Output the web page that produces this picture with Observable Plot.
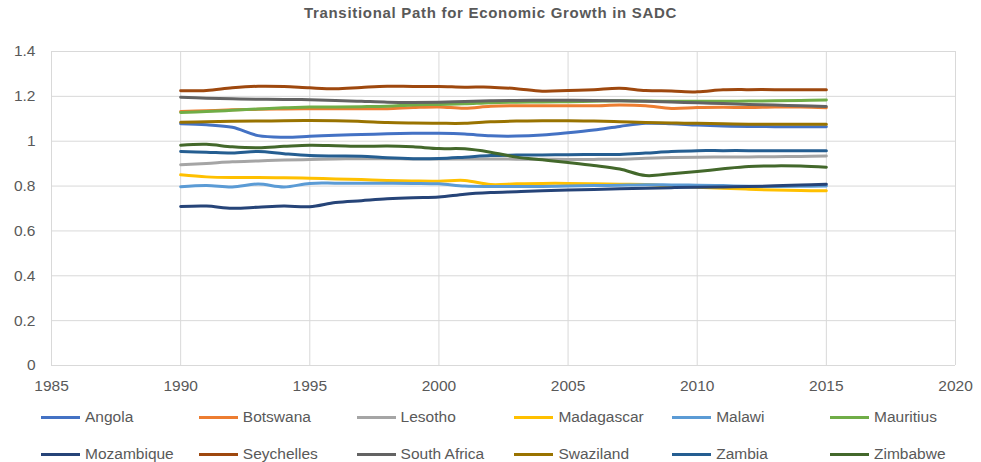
<!DOCTYPE html>
<html>
<head>
<meta charset="utf-8">
<script src="https://cdn.jsdelivr.net/npm/d3@7"></script>
<script src="https://cdn.jsdelivr.net/npm/@observablehq/plot@0.6"></script>
<style>
  body { margin: 0; background: #fff; }
  #wrap { position: relative; width: 981px; height: 462px; font-family: "Liberation Sans", Arial, sans-serif; color: #595959; overflow: hidden; }
  #title { position: absolute; left: 0; top: 4px; width: 981px; text-align: center; font-weight: bold; font-size: 15px; letter-spacing: 0.7px; line-height: 18px; }
  #chart { position: absolute; left: 0; top: 26px; }
  .leg { position: absolute; font-size: 15.5px; line-height: 18px; white-space: nowrap; }
  .sw { position: absolute; width: 39px; height: 3px; }
</style>
</head>
<body>
<div id="wrap">
  <div id="title">Transitional Path for Economic Growth in SADC</div>
  <div id="chart"></div>
  <div id="legend"></div>
</div>
<script>
const years = d3.range(1990, 2016);
const countries = ["Angola","Botswana","Lesotho","Madagascar","Malawi","Mauritius","Mozambique","Seychelles","South Africa","Swaziland","Zambia","Zimbabwe"];
const colors = ["#4472C4","#ED7D31","#A5A5A5","#FFC000","#5B9BD5","#70AD47","#264478","#9E480E","#636363","#997300","#255E91","#43682B"];
const xTicks = [1985,1990,1995,2000,2005,2010,2015,2020];
const yTicks = [0,0.2,0.4,0.6,0.8,1,1.2,1.4];

const angola = [1.078,1.073,1.062,1.025,1.018,1.022,1.027,1.030,1.033,1.035,1.035,1.032,1.024,1.023,1.028,1.038,1.050,1.066,1.080,1.078,1.072,1.068,1.066,1.065,1.065,1.064];
const botswana = [1.133,1.136,1.140,1.142,1.144,1.145,1.145,1.145,1.145,1.150,1.153,1.147,1.156,1.158,1.158,1.158,1.158,1.161,1.158,1.146,1.150,1.151,1.150,1.152,1.152,1.149];
const lesotho = [0.895,0.901,0.908,0.912,0.916,0.918,0.921,0.922,0.922,0.921,0.921,0.921,0.921,0.920,0.920,0.919,0.919,0.920,0.924,0.927,0.929,0.930,0.930,0.931,0.932,0.934];
const madagascar = [0.850,0.841,0.838,0.838,0.837,0.835,0.832,0.829,0.825,0.823,0.822,0.825,0.807,0.810,0.812,0.812,0.810,0.808,0.807,0.800,0.795,0.790,0.786,0.782,0.780,0.779];
const malawi = [0.797,0.803,0.796,0.809,0.796,0.812,0.813,0.813,0.813,0.812,0.810,0.800,0.798,0.798,0.798,0.800,0.802,0.804,0.806,0.805,0.804,0.802,0.799,0.798,0.799,0.800];
const mauritius = [1.128,1.132,1.138,1.144,1.149,1.152,1.153,1.154,1.156,1.162,1.164,1.167,1.172,1.174,1.175,1.176,1.178,1.180,1.179,1.178,1.178,1.178,1.179,1.180,1.182,1.184];
const mozambique = [0.709,0.711,0.701,0.706,0.711,0.708,0.727,0.735,0.743,0.748,0.751,0.764,0.771,0.775,0.779,0.782,0.785,0.788,0.790,0.793,0.795,0.796,0.798,0.801,0.805,0.808];
const seychelles = [1.225,1.226,1.238,1.245,1.244,1.238,1.234,1.240,1.245,1.244,1.244,1.241,1.241,1.234,1.223,1.226,1.230,1.236,1.226,1.224,1.220,1.229,1.230,1.230,1.230,1.230];
const southAfrica = [1.196,1.192,1.189,1.187,1.186,1.185,1.182,1.178,1.174,1.173,1.174,1.177,1.180,1.182,1.183,1.183,1.182,1.180,1.178,1.175,1.171,1.168,1.164,1.161,1.158,1.155];
const swaziland = [1.085,1.087,1.089,1.090,1.091,1.092,1.091,1.088,1.083,1.081,1.080,1.080,1.087,1.090,1.091,1.091,1.090,1.087,1.083,1.081,1.080,1.078,1.076,1.076,1.076,1.076];
const zambia = [0.954,0.951,0.947,0.954,0.944,0.936,0.934,0.933,0.926,0.922,0.923,0.929,0.936,0.938,0.939,0.940,0.941,0.941,0.947,0.954,0.958,0.958,0.958,0.957,0.957,0.957];
const zimbabwe = [0.982,0.986,0.975,0.971,0.977,0.982,0.980,0.977,0.979,0.975,0.967,0.966,0.951,0.929,0.917,0.905,0.892,0.876,0.847,0.855,0.865,0.877,0.887,0.890,0.889,0.884];

const seriesValues = [angola,botswana,lesotho,madagascar,malawi,mauritius,mozambique,seychelles,southAfrica,swaziland,zambia,zimbabwe];

const data = [];
countries.forEach((c, i) => {
  seriesValues[i].forEach((v, j) => data.push({country: c, year: years[j], value: v}));
});

const fmtY = d => String(+d.toFixed(1));

const chart = Plot.plot({
  width: 981,
  height: 374,
  marginTop: 25,
  marginBottom: 35,
  marginLeft: 51,
  marginRight: 26,
  style: {fontFamily: '"Liberation Sans", Arial, sans-serif', fontSize: "15.5px", color: "#595959", background: "#fff"},
  x: {domain: [1985, 2020], label: null},
  y: {domain: [0, 1.4], label: null},
  color: {domain: countries, range: colors},
  marks: [
    Plot.gridX(xTicks, {stroke: "#D9D9D9", strokeOpacity: 1, strokeWidth: 1}),
    Plot.gridY(yTicks, {stroke: "#D9D9D9", strokeOpacity: 1, strokeWidth: 1}),
    Plot.lineY(data, {x: "year", y: "value", z: "country", stroke: "country", curve: "catmull-rom", strokeWidth: 3}),
    Plot.axisX({ticks: xTicks, tickFormat: d => String(d), tickSize: 0, tickPadding: 14, fill: "#595959"}),
    Plot.axisY({ticks: yTicks, tickFormat: fmtY, tickSize: 0, tickPadding: 16, fill: "#595959"})
  ]
});
document.getElementById("chart").appendChild(chart);

const legend = document.getElementById("legend");
countries.forEach((c, i) => {
  const col = i % 6, row = Math.floor(i / 6);
  const x = 41 + col * 157.8;
  const yc = row === 0 ? 417 : 454;
  const sw = document.createElement("div");
  sw.className = "sw";
  sw.style.left = x + "px";
  sw.style.top = (yc - 1.5) + "px";
  sw.style.background = colors[i];
  legend.appendChild(sw);
  const t = document.createElement("div");
  t.className = "leg";
  t.style.left = (x + 44) + "px";
  t.style.top = (yc - 9) + "px";
  t.textContent = c;
  legend.appendChild(t);
});
</script>
</body>
</html>
